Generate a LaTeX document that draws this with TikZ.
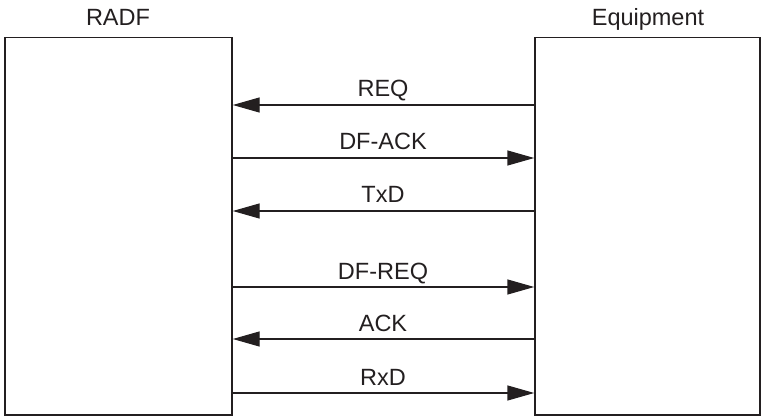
\documentclass[tikz,border=0pt]{standalone}
\usepackage{fontspec}
\setmainfont{Liberation Sans}
\usetikzlibrary{arrows.meta}
\definecolor{ink}{HTML}{231F20}
\begin{document}
\begin{tikzpicture}[x=1pt,y=-1pt,
  box/.style={draw=ink,line width=1.4pt,inner sep=0pt},
  msg/.style={draw=ink,line width=1.4pt,-{Triangle[length=27pt,width=15pt]}},
  lbl/.style={text=ink,font=\fontsize{23.5}{26}\selectfont,inner sep=0pt,anchor=base},
  ttl/.style={text=ink,font=\fontsize{23.5}{26}\selectfont,inner sep=0pt,anchor=base}]
\useasboundingbox (0,0) rectangle (761,417);
\node[box,minimum width=227pt,minimum height=377.5pt] (L) at (118.5,226.25) {};
\node[box,minimum width=225pt,minimum height=377.5pt] (R) at (647.5,226.25) {};
\node[ttl] (tL) at (118,26) {RADF};
\node[ttl] (tR) at (648,26) {Equipment};
\foreach \y/\n in {105/a,158/b,211/c,287/d,339/e,393/f}{
  \coordinate (l\n) at (L.east |- 0,\y);
  \coordinate (r\n) at (R.west |- 0,\y);
}
\draw[msg] (ra) -- (la);
\draw[msg] (lb) -- (rb);
\draw[msg] (rc) -- (lc);
\draw[msg] (ld) -- (rd);
\draw[msg] (re) -- (le);
\draw[msg] (lf) -- (rf);
\node[lbl] (ta) at (383,97) {REQ};
\node[lbl] (tb) at (383,150) {DF-ACK};
\node[lbl] (tc) at (383,203) {TxD};
\node[lbl] (td) at (383,279) {DF-REQ};
\node[lbl] (te) at (383,331) {ACK};
\node[lbl] (tf) at (383,385) {RxD};
\end{tikzpicture}
\end{document}
